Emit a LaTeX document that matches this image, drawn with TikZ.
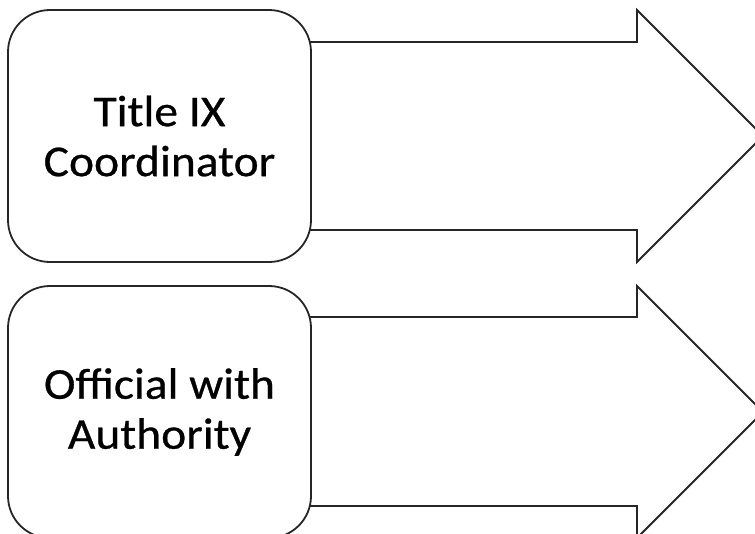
\documentclass[tikz,border=0pt]{standalone}
\usepackage{fontspec}
\newfontfamily\boxfont[FakeStretch=1.08,FakeBold=0.6]{Carlito}
\definecolor{edge}{HTML}{262626}
\tikzset{
  outline/.style={draw=edge, line width=1.8pt, line join=miter},
  roundbox/.style={outline, fill=white, rounded corners=42pt, minimum width=303pt,
    minimum height=252pt, inner sep=0pt, align=center,
    font=\boxfont\fontsize{44}{50}\selectfont},
  bigarrow/.style={outline, fill=white}
}
\begin{document}
\begin{tikzpicture}[x=1pt,y=-1pt]
\useasboundingbox (0,0) rectangle (755,533);
\clip (0,0) rectangle (755,533);
\fill[white] (0,0) rectangle (755,533);
% arrows (drawn first, boxes on top)
\draw[bigarrow] (300,42) -- (637,42) -- (637,10) -- (763,136) -- (637,262) -- (637,230) -- (300,230) -- cycle;
\draw[bigarrow] (300,317) -- (637,317) -- (637,286) -- (763,412) -- (637,538) -- (637,506) -- (300,506) -- cycle;
% boxes
\node[roundbox] (coord) at (159.5,136) {Title IX\\Coordinator};
\node[roundbox] (official) at (159.5,412) {Official with\\Authority};
\end{tikzpicture}
\end{document}
